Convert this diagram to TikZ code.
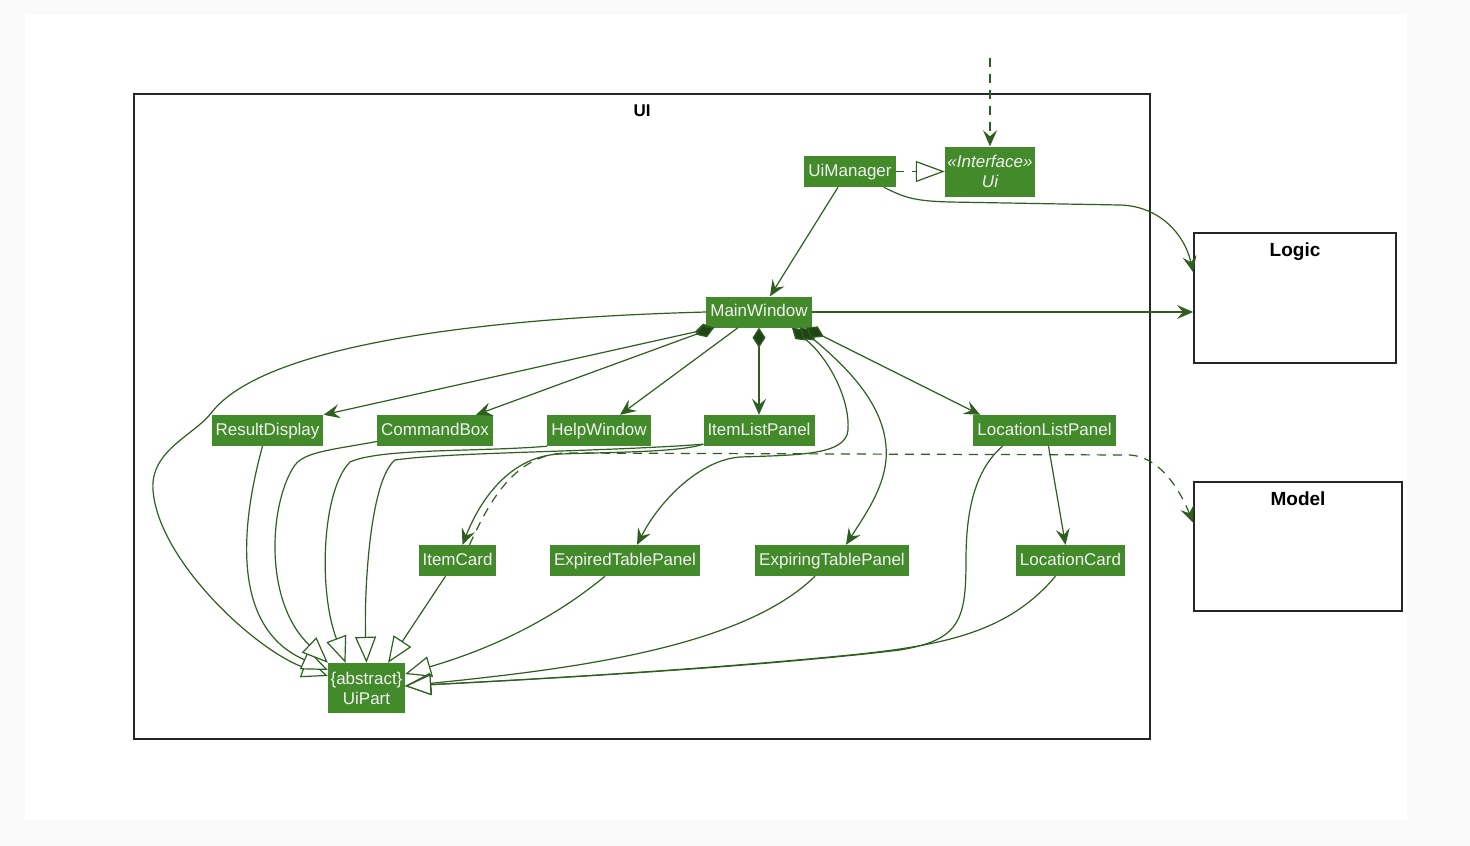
\documentclass[tikz,border=0pt]{standalone}
\usepackage{fontspec}
\setmainfont{Liberation Sans}
\usepackage{tikz}
\usetikzlibrary{arrows.meta, backgrounds}
\definecolor{uifill}{HTML}{438A2B}
\definecolor{uiline}{HTML}{2F5E20}
\definecolor{uidark}{HTML}{1F4514}
\definecolor{uitext}{HTML}{F2F2F2}
\tikzstyle{classbox} = [rectangle, fill=uifill, text=uitext, minimum height=31pt,
                        text height=13pt, text depth=4pt,
                        inner xsep=4pt, inner ysep=2pt, font=\fontsize{17}{20}\selectfont]
\tikzstyle{twoline}  = [classbox, align=center, minimum height=50pt,
                        text height={}, text depth={}, inner xsep=2.5pt]
\tikzstyle{package}  = [rectangle, draw=black!85, line width=2pt]
\tikzstyle{pkglabel} = [anchor=north, yshift=-7pt, font=\bfseries\fontsize{19}{22}\selectfont]
\tikzstyle{arrow}    = [draw=uiline, line width=1.2pt,
                        -{Stealth[length=16pt, width=14pt, inset=6pt]}]
\tikzstyle{dasharrow}= [arrow, dash pattern=on 9pt off 7pt]
\tikzstyle{compose}  = [draw=uiline, line width=1.2pt,
                        {Diamond[length=20pt, width=13pt, fill=uidark]}-{Stealth[length=16pt, width=14pt, inset=6pt]}]
\tikzstyle{realise}  = [draw=uiline, line width=1.2pt, dash pattern=on 8pt off 8pt,
                        -{Triangle[length=29pt, width=21pt, fill=white]}]
\tikzstyle{inherit}  = [draw=uiline, line width=1.2pt,
                        -{Triangle[length=26pt, width=21pt, fill=white]}]
\begin{document}
\begin{tikzpicture}[x=1pt, y=-1pt]

    % ── Page ────────────────────────────────────────────────────────────────
    \useasboundingbox (0,0) rectangle (1470,846);
    \fill [black!2] (0,0) rectangle (1470,846);
    \fill [white] (25,15) rectangle (1407,820);

    % ── Packages ────────────────────────────────────────────────────────────
    \node (uipkg) [package, minimum width=1016pt, minimum height=645pt,
                   label={[pkglabel, yshift=-1pt, font=\bfseries\fontsize{17}{20}\selectfont]north:UI}] at (642,416.5) {};
    \node (logic) [package, minimum width=202pt, minimum height=130pt,
                   label={[pkglabel]north:Logic}] at (1295,298) {};
    \node (model) [package, minimum width=208pt, minimum height=129pt,
                   label={[pkglabel]north:Model}] at (1298,546.5) {};

    % ── Classes ─────────────────────────────────────────────────────────────
    \node (uimgr)  [classbox] at (850,171.5)   {UiManager};
    \node (iui)    [twoline, font=\fontsize{17}{20}\selectfont\itshape] at (990,171.5) {«Interface»\\Ui};
    \node (mainw)  [classbox] at (759,312)     {MainWindow};
    \node (resd)   [classbox] at (267.5,430.5) {ResultDisplay};
    \node (cmdbox) [classbox] at (435,430.5)   {CommandBox};
    \node (helpw)  [classbox] at (599,430.5)   {HelpWindow};
    \node (iteml)  [classbox] at (759,430.5)   {ItemListPanel};
    \node (locl)   [classbox] at (1044.5,430.5){LocationListPanel};
    \node (icard)  [classbox] at (457.5,560.5) {ItemCard};
    \node (exptp)  [classbox] at (625,560.5)   {ExpiredTablePanel};
    \node (exgtp)  [classbox] at (832,560.5)   {ExpiringTablePanel};
    \node (lcard)  [classbox] at (1070.5,560.5){LocationCard};
    \node (uipart) [twoline]  at (366.5,688)   {\{abstract\}\\UiPart};

    % ── Ui / UiManager ──────────────────────────────────────────────────────
    \coordinate (ext) at (990,58);
    \draw [dasharrow] (ext) -- (iui.north);
    \draw [realise] (uimgr.east) -- (iui.west);
    \draw [arrow] ([xshift=-12pt]uimgr.south) -- ([xshift=11pt]mainw.north);
    \draw [arrow] ([xshift=-12pt]uimgr.south east) .. controls (905,198) and (915,201) .. (950,202)
        -- (1120,205) .. controls (1160,206) and (1185,235) .. ([yshift=26pt]logic.west);
    \draw [arrow] (mainw.east) -- (mainw.east -| logic.west);

    % ── MainWindow parts ────────────────────────────────────────────────────
    \draw [compose] ([xshift=8pt]mainw.south west) -- (resd.north east);
    \draw [compose] ([xshift=8pt]mainw.south west) -- ([xshift=-17pt]cmdbox.north east);
    \draw [arrow]   ([xshift=-21pt]mainw.south) -- ([xshift=21pt]helpw.north);
    \draw [compose] (mainw.south) -- (iteml.north);
    \draw [compose] ([xshift=-20pt]mainw.south east) .. controls (830,360) and (850,400) .. (848,430)
        .. controls (846,455) and (800,455) .. (740,457) .. controls (700,460) and (660,500) .. ([xshift=12pt]exptp.north);
    \draw [compose] ([xshift=-12pt]mainw.south east) .. controls (850,370) and (890,410) .. (886,460)
        .. controls (883,490) and (865,515) .. ([xshift=14pt]exgtp.north);
    \draw [compose] ([xshift=-6pt]mainw.south east) -- ([xshift=7pt]locl.north west);

    % ── Panels to cards ─────────────────────────────────────────────────────
    \draw [arrow] ([yshift=2pt]iteml.south west) .. controls (680,452) and (620,452) .. (560,454)
        .. controls (510,456) and (480,500) .. ([xshift=5pt]icard.north);
    \draw [arrow] ([xshift=4pt]locl.south) -- ([xshift=-5pt]lcard.north);
    \draw [dasharrow] ([xshift=12pt]icard.north) .. controls (490,500) and (515,455) .. (565,453)
        -- (1130,455) .. controls (1160,457) and (1180,490) .. ([yshift=24pt]model.west);

    % ── Inheritance ─────────────────────────────────────────────────────────
    \draw [inherit] (mainw.west) .. controls (480,318) and (265,345) .. (212,412)
        .. controls (195,435) and (150,450) .. (153,490)
        .. controls (158,560) and (255,650) .. ([yshift=12pt]uipart.west);
    \draw [inherit] ([xshift=-5pt]resd.south) .. controls (245,510) and (225,625) .. ([yshift=18pt]uipart.west);
    \draw [inherit] ([yshift=-11pt]cmdbox.west) .. controls (330,450) and (305,452) .. (295,465)
        .. controls (270,500) and (262,600) .. (uipart.north west);
    \draw [inherit] (helpw.south west) .. controls (480,452) and (380,448) .. (350,462)
        .. controls (322,490) and (318,590) .. ([xshift=-21pt]uipart.north);
    \draw [inherit] ([yshift=2pt]iteml.south west) .. controls (600,452) and (450,452) .. (395,460)
        .. controls (370,480) and (364,590) .. (uipart.north);
    \draw [inherit] ([xshift=-12pt]icard.south) -- ([xshift=-17pt]uipart.north east);
    \draw [inherit] ([xshift=-20pt]exptp.south) .. controls (540,630) and (470,655) .. ([yshift=14pt]uipart.east);
    \draw [inherit] ([xshift=-17pt]exgtp.south) .. controls (740,650) and (560,670) .. ([yshift=2pt]uipart.east);
    \draw [inherit] ([xshift=-42pt]locl.south) .. controls (975,470) and (966,510) .. (966,560)
        .. controls (966,620) and (960,640) .. (900,650) .. controls (750,668) and (520,680) .. ([yshift=2pt]uipart.east);
    \draw [inherit] ([xshift=-15pt]lcard.south) .. controls (1010,630) and (950,645) .. (850,655)
        .. controls (700,670) and (520,680) .. ([yshift=2pt]uipart.east);

\end{tikzpicture}
\end{document}
